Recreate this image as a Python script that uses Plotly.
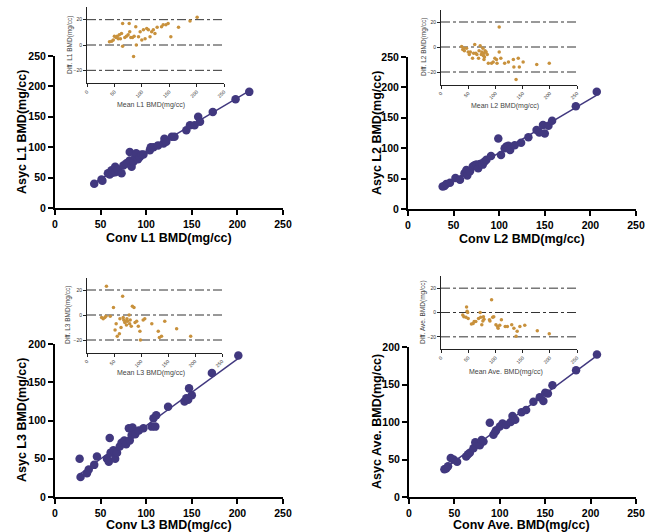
import numpy as np
import plotly.graph_objects as go

W, H = 654, 532

# ---------------- data ----------------
conv_L1 = [43, 51, 52, 58, 60, 62, 63, 66, 66, 68, 69, 73, 75, 78, 80, 82, 82, 84, 86, 88, 89, 91, 93, 95, 97, 104, 105, 108, 113, 119, 120, 122, 128, 131, 144, 148, 153, 157, 159, 173, 198, 213]
asyc_L1 = [40, 47, 45, 57, 55, 62, 58, 68, 59, 64, 63, 57, 70, 73, 75, 78, 92, 68, 76, 84, 90, 80, 84, 88, 88, 95, 100, 100, 103, 106, 114, 109, 117, 117, 128, 136, 136, 150, 142, 158, 179, 191]
mean_L1 = [41, 45, 48, 50, 53, 55, 57, 59, 61, 63, 65, 65, 69, 72, 75, 77, 78, 80, 83, 85, 86, 89, 90, 94, 97, 100, 103, 106, 109, 112, 115, 118, 121, 124, 128, 136, 139, 144, 148, 153, 167, 188, 201]
diff_L1 = [2.6, 3, 4, 7, 6, 7, 5, 8, 5, 9, 17, -1, 6, 7, 8, 17, 10.5, 6, 6, -9, 7, 14.5, 0, 6.5, 10.5, 4, 12, 5, 13, 12, 6.5, 10.5, 12, 9, 14, 14.5, 16, 16, 17, 6.5, 14, 19, 22]

conv_L2 = [38, 40, 42, 46, 52, 57, 62, 64, 65, 68, 71, 73, 75, 77, 79, 81, 82, 84, 86, 91, 99, 102, 106, 108, 110, 112, 117, 124, 132, 141, 144, 148, 150, 154, 158, 184, 207]
asyc_L2 = [37, 38, 41, 43, 51, 48, 59, 64, 55, 62, 70, 72, 73, 67, 74, 75, 73, 78, 81, 87, 116, 89, 100, 103, 104, 97, 105, 109, 118, 130, 126, 138, 124, 137, 145, 169, 193]
mean_L2 = [38, 40, 42, 43, 47, 50, 52, 54, 58, 60, 62, 64, 66, 69, 70, 72, 74, 75, 77, 78, 79, 79, 80, 81, 83, 85, 87, 93, 96, 99, 102, 103, 107, 107, 110, 117, 124, 133, 134, 138, 142, 144, 151, 176, 199]
diff_L2 = [0.3, -2, -1, -3, -1, -4, -6, -4, -9, -5, 2, -5, -6, -9, -3, 1, -6, -4, -1, -7, -5, -10, -8, -3, -4, -6, -13, -13, -12, -9, -10, -13, 16, -4, -9, -13, -12, -10, -16, -26, -9, -16, -12, -14, -13]

conv_L3 = [27, 28, 35, 37, 43, 46, 57, 59, 60, 61, 64, 66, 68, 71, 73, 76, 78, 81, 82, 84, 85, 88, 92, 97, 106, 108, 110, 111, 124, 142, 144, 146, 147, 150, 172, 201]
asyc_L3 = [50, 26, 31, 36, 42, 53, 50, 46, 77, 58, 61, 50, 58, 66, 71, 74, 69, 90, 74, 81, 91, 82, 87, 90, 92, 103, 92, 107, 118, 125, 129, 127, 142, 133, 162, 185]
mean_L3 = [27, 30, 33, 35, 36, 43, 49, 52, 54, 56, 60, 61, 63, 66, 67, 68, 70, 71, 73, 74, 75, 78, 79, 80, 82, 84, 87, 89, 92, 95, 98, 99, 104, 107, 120, 132, 134, 138, 144, 166, 192]
diff_L3 = [-2, -3, -2, -1, 23, -1, 6, -12, -7, -17, -15, -3, -10, 15, -2, -4, -6, -5, -8, -3, -5, 0, -7, -4, -9, 7, 6, -6, -5, -9, -13, -20, -4, -3, -7, -13, -18, -17, -5, -11, -17]

conv_AV = [39, 41, 43, 46, 49, 53, 63, 65, 67, 71, 73, 78, 80, 82, 89, 93, 95, 96, 100, 103, 107, 112, 114, 117, 124, 129, 137, 144, 148, 150, 153, 158, 184, 207]
asyc_AV = [37, 38, 41, 52, 50, 47, 54, 57, 59, 65, 73, 69, 76, 74, 99, 83, 87, 89, 94, 98, 96, 100, 108, 103, 113, 116, 127, 133, 128, 139, 138, 149, 169, 190]
mean_AV = [40, 42, 46, 47, 48, 49, 50, 56, 59, 61, 64, 69, 72, 73, 75, 77, 78, 79, 89, 90, 93, 95, 97, 101, 104, 105, 108, 111, 118, 122, 130, 134, 138, 140, 145, 154, 177, 199]
diff_AV = [-2, -3.5, -4, 4.5, 1, 0, -5, -9.5, -9, -7.5, -7.5, -5, 0, -4, -10, -7, -3.5, -5.5, -6, -7, 10.5, -4, -3.5, -10, -11.5, -13, -10.5, -6, -11.5, -11.5, -10, -13, -19.5, -15.5, -11.5, -10.5, -15, -17.5]

labels = ["L1", "L2", "L3", "Ave."]
limits = [20, 0, -20]
main_ticks_x = [0, 50, 100, 150, 200, 250]
main_ticks_y = [[0, 50, 100, 150, 200, 250], [0, 50, 100, 150, 200, 250], [0, 50, 100, 150, 200], [0, 50, 100, 150, 200]]
inset_ticks_x = [0, 50, 100, 150, 200, 250]
inset_ticks_y = [-20, 0, 20]

# ---------------- layout geometry (pixels) ----------------
mains = [(55, 283, 208, 56, 250), (408, 636, 209, 57, 250),
         (55, 283, 497, 344, 200), (409, 636, 497, 347, 200)]
insets = [(87, 224, 83, 7), (441, 577, 84.5, 9.5),
          (87, 222, 352.5, 277.5), (441, 577, 349, 276)]
main_xt = [(169, 238), (522, 239), (169, 524.5), (521, 525)]
main_yt = [(22, 132), (377, 133), (22, 420), (377, 422)]
ins_xt = [(151, 105), (505, 106), (151, 373), (506, 372)]
ins_yt = [(70, 45), (424, 47), (68, 315), (423, 312)]

FONT = "Liberation Sans, Arial, sans-serif"
MAIN_C = "#41387f"
INSET_C = "#c8913c"

data_sets = [(conv_L1, asyc_L1, mean_L1, diff_L1),
             (conv_L2, asyc_L2, mean_L2, diff_L2),
             (conv_L3, asyc_L3, mean_L3, diff_L3),
             (conv_AV, asyc_AV, mean_AV, diff_AV)]

fig = go.Figure()
layout = {}
annotations = []


def xd(a, b):
    return [a / W, b / W]


def yd(bot, top):
    return [1 - bot / H, 1 - top / H]


def ann(text, cx, cy, size, angle=0, bold=False, color="black"):
    annotations.append(dict(text=text, x=cx / W, y=1 - cy / H, xref="paper", yref="paper",
                            xanchor="center", yanchor="middle", showarrow=False,
                            textangle=angle,
                            font=dict(family=FONT, size=size, color=color,
                                      weight="bold" if bold else "normal")))


for i, (cv, ay, mn, df) in enumerate(data_sets):
    k = i + 1
    j = i + 5
    lab = labels[i]
    x0, x1, yb, yt, ymax = mains[i]
    slope, icpt = np.polyfit(cv, ay, 1)
    lx = np.array([min(cv), max(cv)])
    fig.add_trace(go.Scatter(x=lx, y=slope * lx + icpt, mode="lines",
                             line=dict(color=MAIN_C, width=1.5),
                             xaxis=f"x{k}", yaxis=f"y{k}", showlegend=False))
    fig.add_trace(go.Scatter(x=cv, y=ay, mode="markers",
                             marker=dict(color=MAIN_C, size=8.5),
                             xaxis=f"x{k}", yaxis=f"y{k}", showlegend=False))
    common_main = dict(showline=True, linecolor="black", linewidth=2,
                       ticks="outside", ticklen=5, tickwidth=2, tickcolor="black",
                       showgrid=False, zeroline=False, automargin=False,
                       tickfont=dict(family=FONT, size=10.5, color="black", weight="bold"))
    layout[f"xaxis{k}"] = dict(domain=xd(x0, x1), range=[0, 250], anchor=f"y{k}",
                               tickvals=main_ticks_x, **common_main)
    layout[f"yaxis{k}"] = dict(domain=yd(yb, yt), range=[0, ymax], anchor=f"x{k}",
                               tickvals=main_ticks_y[i], **common_main)
    ann(f"Conv {lab} BMD(mg/cc)", *main_xt[i], 12.5, bold=True)
    ann(f"Asyc {lab} BMD(mg/cc)", *main_yt[i], 12.5, angle=-90, bold=True)

    ix0, ix1, iyb, iyt = insets[i]
    for lv in limits:
        fig.add_trace(go.Scatter(x=[0, 250], y=[lv, lv], mode="lines",
                                 line=dict(color="#333333", width=1, dash="dashdot"),
                                 xaxis=f"x{j}", yaxis=f"y{j}", showlegend=False))
    fig.add_trace(go.Scatter(x=mn, y=df, mode="markers",
                             marker=dict(color=INSET_C, size=3.5),
                             xaxis=f"x{j}", yaxis=f"y{j}", showlegend=False))
    common_ins = dict(showline=True, linecolor="#222222", linewidth=1,
                      ticks="outside", ticklen=3, tickwidth=1, tickcolor="#222222",
                      showgrid=False, zeroline=False, automargin=False,
                      tickfont=dict(family=FONT, size=5, color="#333333"))
    layout[f"xaxis{j}"] = dict(domain=xd(ix0, ix1), range=[0, 250], anchor=f"y{j}",
                               tickvals=inset_ticks_x, tickangle=-45, **common_ins)
    layout[f"yaxis{j}"] = dict(domain=yd(iyb, iyt), range=[-30, 30], anchor=f"x{j}",
                               tickvals=inset_ticks_y, **common_ins)
    ann(f"Mean {lab} BMD(mg/cc)", *ins_xt[i], 7, color="#444444")
    ann(f"Diff. {lab} BMD(mg/cc)", *ins_yt[i], 6.5, angle=-90, color="#444444")

fig.update_layout(width=W, height=H, margin=dict(l=0, r=0, t=0, b=0, autoexpand=False),
                  paper_bgcolor="white", plot_bgcolor="white",
                  showlegend=False, annotations=annotations, **layout)

fig.write_html("out.html", config={"displayModeBar": False},
               post_script="document.body.style.margin='0';document.body.style.overflow='hidden';")
